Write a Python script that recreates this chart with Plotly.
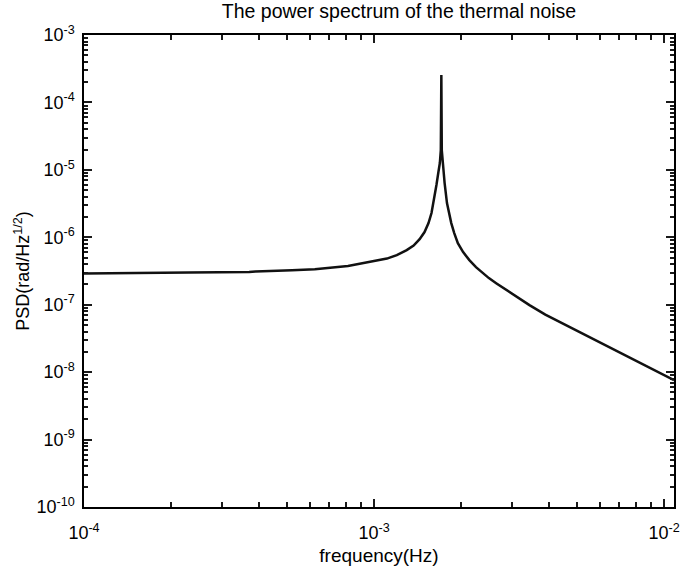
import plotly.graph_objects as go

# Data
freq_hz = [1.00e-4, 1.60e-4, 2.30e-4, 3.71e-4, 3.90e-4, 5.21e-4, 6.25e-4, 8.13e-4,
           9.77e-4, 1.108e-3, 1.198e-3, 1.296e-3, 1.369e-3, 1.436e-3, 1.493e-3,
           1.541e-3, 1.578e-3, 1.609e-3, 1.641e-3, 1.667e-3, 1.686e-3, 1.699e-3,
           1.706e-3,
           1.712e-3, 1.726e-3, 1.751e-3, 1.784e-3, 1.817e-3, 1.846e-3, 1.890e-3,
           1.945e-3, 2.028e-3, 2.131e-3, 2.246e-3, 2.368e-3, 2.488e-3, 2.644e-3,
           3.005e-3, 3.434e-3, 3.895e-3, 4.461e-3, 5.087e-3, 6.753e-3, 8.546e-3,
           1.0e-2, 1.082e-2]
psd = [2.90e-7, 2.98e-7, 3.00e-7, 3.05e-7, 3.12e-7, 3.24e-7, 3.37e-7, 3.74e-7,
       4.29e-7, 4.83e-7, 5.44e-7, 6.46e-7, 7.53e-7, 9.40e-7, 1.194e-6,
       1.624e-6, 2.286e-6, 3.56e-6, 5.95e-6, 9.28e-6, 1.261e-5, 1.967e-5,
       2.55e-4,
       1.967e-5, 1.178e-5, 6.37e-6, 3.22e-6, 2.21e-6, 1.624e-6, 1.154e-6,
       8.20e-7, 6.03e-7, 4.59e-7, 3.61e-7, 2.94e-7, 2.48e-7, 2.07e-7,
       1.437e-7, 9.86e-8, 7.13e-8, 5.28e-8, 3.96e-8, 2.16e-8, 1.27e-8,
       9.03e-9, 7.61e-9]

x_tickvals = [1e-4, 1e-3, 1e-2]
x_ticktext = ["10<sup>-4</sup>", "10<sup>-3</sup>", "10<sup>-2</sup>"]
y_tickvals = [1e-10, 1e-9, 1e-8, 1e-7, 1e-6, 1e-5, 1e-4, 1e-3]
y_ticktext = ["10<sup>-10</sup>", "10<sup>-9</sup>", "10<sup>-8</sup>", "10<sup>-7</sup>",
              "10<sup>-6</sup>", "10<sup>-5</sup>", "10<sup>-4</sup>", "10<sup>-3</sup>"]
minor_digits = [2, 3, 4, 5, 6, 7, 8, 9]
x_minor = [d * v for v in x_tickvals for d in minor_digits]
y_minor = [d * v for v in y_tickvals[:-1] for d in minor_digits]

title_text = "The power spectrum of the thermal noise"
x_title = "frequency(Hz)"
y_title = "PSD(rad/Hz<sup>1/2</sup>)"

FONT = "Liberation Sans, Arial, sans-serif"
X_RANGE = [-4, -4 + 596 / 293]
Y_RANGE = [-10, -3]
TICK_COLOR = "#1a1a1a"

fig = go.Figure()
fig.add_trace(go.Scatter(x=freq_hz, y=psd, mode="lines",
                         line=dict(color="#111111", width=2.5),
                         showlegend=False, hoverinfo="skip"))
# empty trace so that the minor-tick axes exist
fig.add_trace(go.Scatter(x=[], y=[], xaxis="x2", yaxis="y2", showlegend=False,
                         hoverinfo="skip"))

frame = dict(type="log", showgrid=False, zeroline=False,
             showline=True, linecolor="black", linewidth=1.5, mirror="allticks",
             ticks="inside", tickmode="array", layer="above traces",
             tickcolor=TICK_COLOR)
label_font = dict(family=FONT, size=18, color="black")
title_font = dict(family=FONT, size=19.5, color="black")

fig.update_layout(
    xaxis=dict(**frame, range=X_RANGE, ticklen=8, tickwidth=1.5,
               tickvals=x_tickvals, ticktext=x_ticktext,
               tickfont=label_font, ticklabelstandoff=9, ticklabeloverflow="allow",
               title=dict(text=x_title, font=dict(family=FONT, size=19, color="black"),
                          standoff=7)),
    yaxis=dict(**frame, range=Y_RANGE, ticklen=8, tickwidth=1.5,
               tickvals=y_tickvals, ticktext=y_ticktext,
               tickfont=label_font, ticklabelstandoff=4, ticklabeloverflow="allow",
               title=dict(text=y_title, font=dict(family=FONT, size=18, color="black"),
                          standoff=2)),
    xaxis2=dict(**frame, range=X_RANGE, overlaying="x", side="bottom", anchor="y2",
                ticklen=5, tickwidth=1.5, tickvals=x_minor, showticklabels=False),
    yaxis2=dict(**frame, range=Y_RANGE, overlaying="y", side="left", anchor="x2",
                ticklen=4, tickwidth=1.5, tickvals=y_minor, showticklabels=False),
    width=681, height=566,
    margin=dict(l=84, r=1, t=35, b=59),
    paper_bgcolor="white", plot_bgcolor="white",
    title=dict(text=title_text, x=399 / 681, xanchor="center", xref="container",
               y=1 - 11 / 566, yanchor="middle", yref="container",
               font=title_font),
)

fig.write_html("out.html")
